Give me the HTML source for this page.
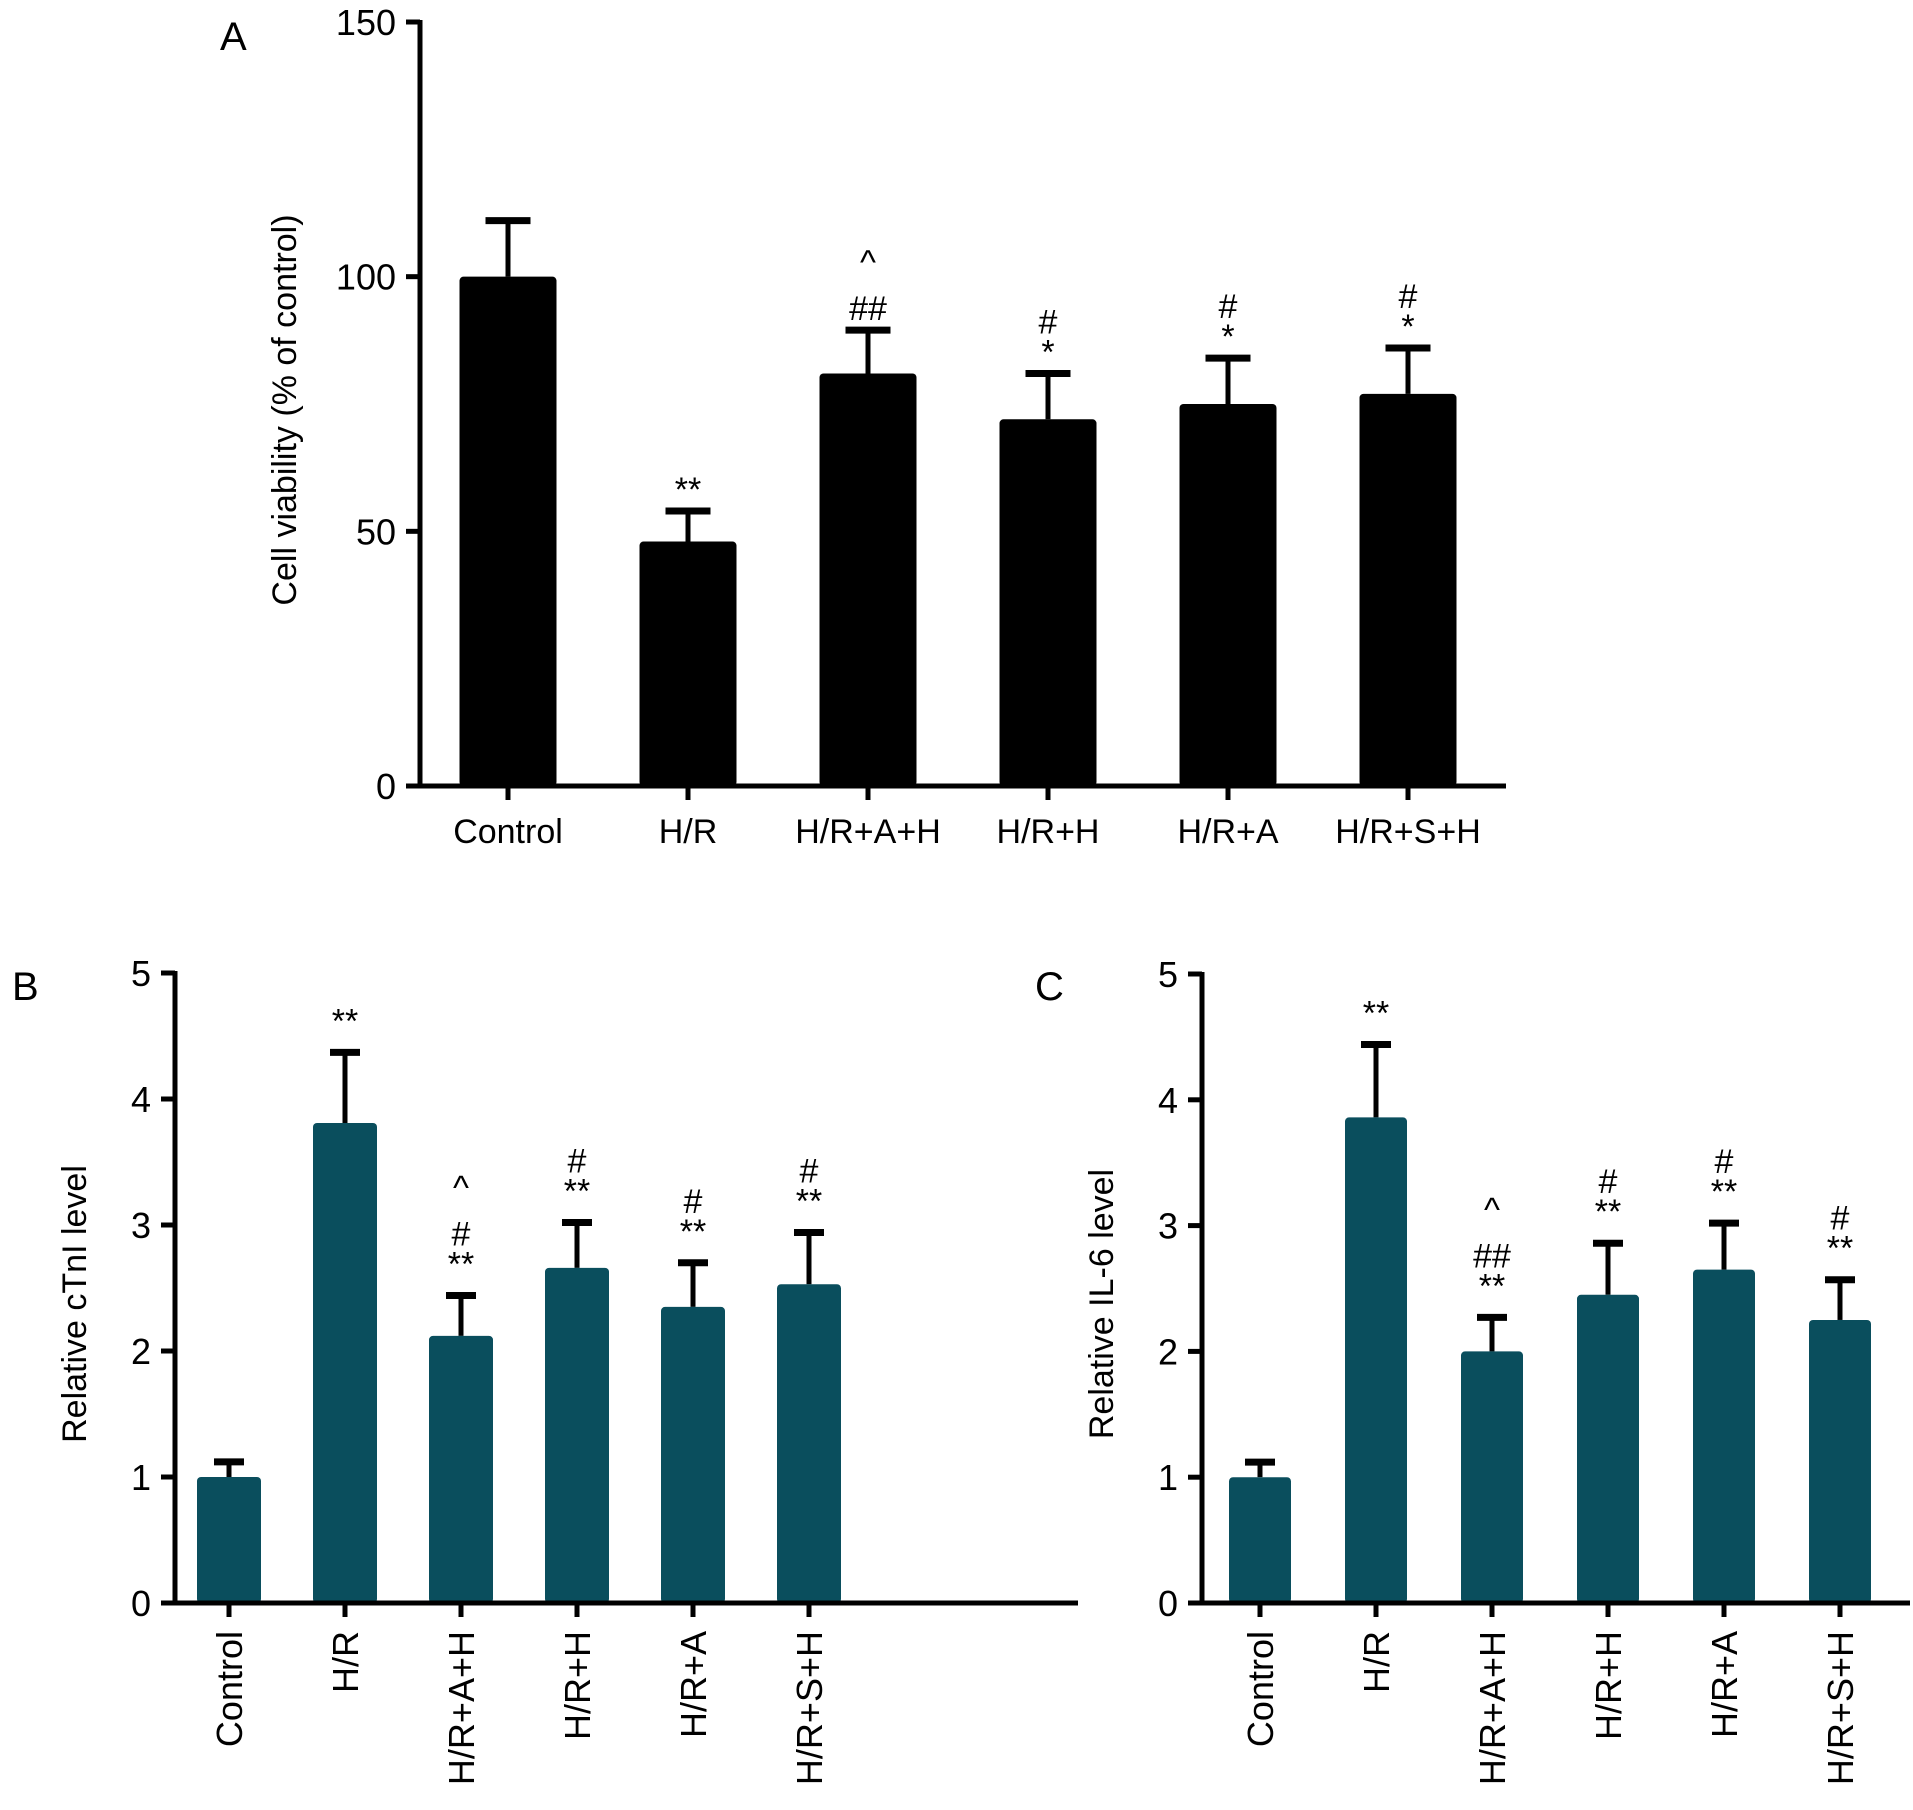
<!DOCTYPE html>
<html><head><meta charset="utf-8"><style>
html,body{margin:0;padding:0;background:#fff;}
svg{display:block;font-family:"Liberation Sans",Arial,sans-serif;}
</style></head><body>
<svg id="fig" width="1913" height="1810" viewBox="0 0 1913 1810" xmlns="http://www.w3.org/2000/svg">
<text x="220" y="50" font-size="40">A</text>
<text x="12" y="1000" font-size="40">B</text>
<text x="1035" y="1000" font-size="40">C</text>
</svg>
<script>
const categories = ["Control","H/R","H/R+A+H","H/R+H","H/R+A","H/R+S+H"];
const viabilityValues = [100, 48, 81, 72, 75, 77];
const viabilityErrors = [111, 54, 89.5, 81, 84, 86];
const viabilityAnnot = [[], ["**"], ["##","^"], ["*","#"], ["*","#"], ["*","#"]];
const viabilityTicks = [0, 50, 100, 150];
const ctniValues = [1.0, 3.81, 2.12, 2.66, 2.35, 2.53];
const ctniErrors = [1.12, 4.37, 2.44, 3.02, 2.70, 2.94];
const ctniAnnot = [[], ["**"], ["**","#","^"], ["**","#"], ["**","#"], ["**","#"]];
const il6Values = [1.0, 3.86, 2.0, 2.45, 2.65, 2.25];
const il6Errors = [1.12, 4.44, 2.27, 2.86, 3.02, 2.57];
const il6Annot = [[], ["**"], ["**","##","^"], ["**","#"], ["**","#"], ["**","#"]];
const levelTicks = [0, 1, 2, 3, 4, 5];

const NS = "http://www.w3.org/2000/svg";
const svg = document.getElementById("fig");
function mk(tag, attrs, parent) {
  const e = document.createElementNS(NS, tag);
  for (const k in attrs) e.setAttribute(k, attrs[k]);
  (parent || svg).appendChild(e);
  return e;
}

function panel(cfg) {
  const g = mk("g", {});
  
  
  const y = v => cfg.y0 - (v - cfg.min) / (cfg.max - cfg.min) * (cfg.y0 - cfg.yTop);
  const x = i => cfg.axisX + cfg.first + i * cfg.step;
  cfg.values.forEach((v, i) => {
    const cx = x(i);
    const eb = mk("line", {x1: cx, x2: cx, y1: y(v), y2: y(cfg.errors[i]), stroke: "#000", "stroke-width": 5}, g);
    
    
    const cap = mk("line", {x1: cx - cfg.cap/2, x2: cx + cfg.cap/2, y1: y(cfg.errors[i]), y2: y(cfg.errors[i]), stroke: "#000", "stroke-width": 7}, g);
    
    
    const r = mk("rect", {x: cx - cfg.bw/2, y: y(v), width: cfg.bw, height: cfg.y0 - y(v), rx: 4, fill: cfg.color}, g);
    
    
    let base = y(cfg.errors[i]) - cfg.gap;
    cfg.annot[i].forEach((t, j) => {
      const tx = mk("text", {x: cx, y: base, "text-anchor": "middle", "font-size": 34}, g);
      tx.textContent = t;
      
      
      base -= (t.indexOf("*") >= 0 ? 30 : 46);
    });
    mk("line", {x1: cx, x2: cx, y1: cfg.y0, y2: cfg.y0 + 14, stroke: "#000", "stroke-width": 5}, g);
    let lab;
    if (cfg.rotate) {
      lab = mk("text", {x: 0, y: 0, "text-anchor": "end", "font-size": 36, transform: "translate(" + (cx + 13) + "," + (cfg.y0 + 28) + ") rotate(-90)"}, g);
    } else {
      lab = mk("text", {x: cx, y: cfg.y0 + 57, "text-anchor": "middle", "font-size": 34}, g);
    }
    lab.textContent = categories[i];
    
    
  });
  const ya = mk("line", {x1: cfg.axisX, x2: cfg.axisX, y1: cfg.yTop - 2, y2: cfg.y0 + 2, stroke: "#000", "stroke-width": 5}, g);
  
  
  const xa = mk("line", {x1: cfg.axisX - 14, x2: cfg.axisEnd, y1: cfg.y0, y2: cfg.y0, stroke: "#000", "stroke-width": 5}, g);
  
  
  cfg.ticks.forEach(t => {
    mk("line", {x1: cfg.axisX - 14, x2: cfg.axisX, y1: y(t), y2: y(t), stroke: "#000", "stroke-width": 5}, g);
    const tl = mk("text", {x: cfg.axisX - 24, y: y(t) + 13, "text-anchor": "end", "font-size": 36}, g);
    tl.textContent = t;
    
    
  });
  const yt = mk("text", {x: 0, y: 0, "text-anchor": "middle", "font-size": 34, transform: "translate(" + cfg.titleX + "," + cfg.titleY + ") rotate(-90)"}, g);
  yt.textContent = cfg.title;
  
  
}

panel({name: "panel-a-cell-viability", values: viabilityValues, errors: viabilityErrors, annot: viabilityAnnot, ticks: viabilityTicks,
  min: 0, max: 150, y0: 786, yTop: 22, axisX: 420, axisEnd: 1506, first: 88, step: 180, bw: 97, cap: 45, gap: 10,
  color: "#000", rotate: false, title: "Cell viability (% of control)", titleX: 296, titleY: 410});
panel({name: "panel-b-ctni", values: ctniValues, errors: ctniErrors, annot: ctniAnnot, ticks: levelTicks,
  min: 0, max: 5, y0: 1603, yTop: 973, axisX: 175, axisEnd: 1078, first: 54, step: 116, bw: 64, cap: 30, gap: 20,
  color: "#0a4e5d", rotate: true, title: "Relative cTnI level", titleX: 86, titleY: 1304});
panel({name: "panel-c-il6", values: il6Values, errors: il6Errors, annot: il6Annot, ticks: levelTicks,
  min: 0, max: 5, y0: 1603, yTop: 974, axisX: 1202, axisEnd: 1910, first: 58, step: 116, bw: 62, cap: 30, gap: 20,
  color: "#0a4e5d", rotate: true, title: "Relative IL-6 level", titleX: 1113, titleY: 1304});
</script>
</body></html>
